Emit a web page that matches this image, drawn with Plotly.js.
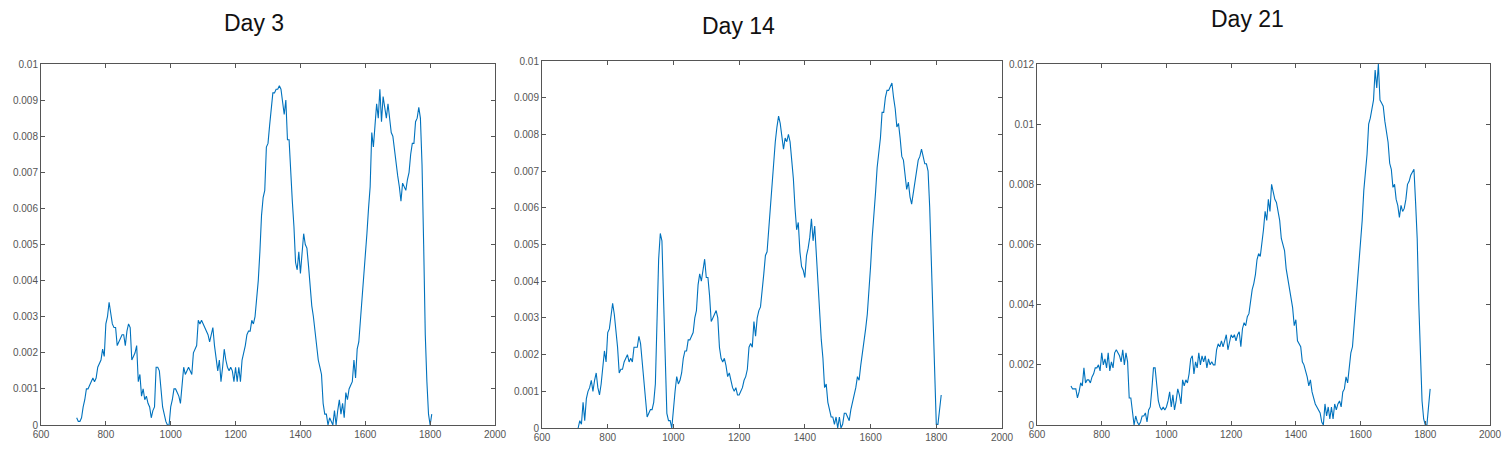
<!DOCTYPE html>
<html>
<head>
<meta charset="utf-8">
<script src="https://cdn.plot.ly/plotly-3.0.1.min.js"></script>
<style>
html,body{margin:0;padding:0;background:#fff;}
#chart{width:1510px;height:452px;}
</style>
</head>
<body>
<div id="chart"></div>
<script>
// Panel titles
const panelTitles = ["Day 3", "Day 14", "Day 21"];

// Wavelength grids: start and step (nm)
const day3Start = 710;
const day14Start = 710;
const day21Start = 705;
const wlStep = 5;

// Day 3 spectrum values (710 .. 1805 nm)
const day3Values = [
0.0002,0.0001,0.0001,0.0002,0.0005,0.0007,0.0010,0.0010,0.0011,0.0012,
0.0013,0.0012,0.0013,0.0016,0.0017,0.0018,0.0021,0.0019,0.0028,0.0030,
0.0034,0.0031,0.0028,0.0027,0.0027,0.0022,0.0023,0.0024,0.0025,0.0025,
0.0022,0.0026,0.0028,0.0027,0.0018,0.0019,0.0020,0.0022,0.0012,0.0014,
0.0008,0.0010,0.0007,0.0008,0.0006,0.0005,0.0002,0.0004,0.0005,0.0016,
0.0016,0.0015,0.0009,0.0005,0.0003,0.0001,0.0000,0.0000,0.0005,0.0007,
0.0010,0.0010,0.0009,0.0008,0.0006,0.0012,0.0016,0.0014,0.0015,0.0016,
0.0015,0.0014,0.0020,0.0021,0.0022,0.0029,0.0028,0.0029,0.0028,0.0027,
0.0026,0.0025,0.0023,0.0025,0.0027,0.0022,0.0018,0.0015,0.0018,0.0012,
0.0016,0.0021,0.0018,0.0016,0.0015,0.0016,0.0015,0.0012,0.0016,0.0012,
0.0016,0.0012,0.0018,0.0020,0.0022,0.0025,0.0026,0.0026,0.0029,0.0028,
0.0030,0.0035,0.0040,0.0048,0.0058,0.0063,0.0065,0.0077,0.0078,0.0083,
0.0088,0.0092,0.0092,0.0093,0.0093,0.0094,0.0093,0.0090,0.0086,0.0090,
0.0079,0.0079,0.0069,0.0062,0.0055,0.0045,0.0043,0.0048,0.0042,0.0049,
0.0053,0.0050,0.0049,0.0044,0.0037,0.0033,0.0030,0.0026,0.0022,0.0018,
0.0016,0.0014,0.0006,0.0003,0.0003,0.0000,0.0002,0.0001,0.0000,0.0004,
0.0000,0.0004,0.0007,0.0003,0.0006,0.0002,0.0009,0.0007,0.0010,0.0011,
0.0012,0.0018,0.0013,0.0021,0.0023,0.0029,0.0035,0.0040,0.0045,0.0053,
0.0060,0.0066,0.0081,0.0077,0.0083,0.0089,0.0085,0.0093,0.0084,0.0091,
0.0088,0.0085,0.0089,0.0085,0.0081,0.0080,0.0076,0.0072,0.0069,0.0066,
0.0062,0.0067,0.0066,0.0065,0.0068,0.0070,0.0075,0.0078,0.0078,0.0084,
0.0085,0.0088,0.0085,0.0072,0.0050,0.0025,0.0012,0.0003,0.0000,0.0003
];

// Day 14 spectrum values (710 .. 1815 nm)
const day14Values = [
0.0000,0.0002,0.0001,0.0007,0.0002,0.0008,0.0010,0.0011,0.0013,0.0010,
0.0013,0.0015,0.0011,0.0009,0.0012,0.0017,0.0021,0.0018,0.0026,0.0027,
0.0030,0.0034,0.0031,0.0027,0.0022,0.0015,0.0016,0.0016,0.0018,0.0019,
0.0020,0.0018,0.0019,0.0018,0.0022,0.0022,0.0022,0.0025,0.0023,0.0018,
0.0013,0.0008,0.0003,0.0004,0.0005,0.0005,0.0007,0.0012,0.0027,0.0046,
0.0053,0.0051,0.0035,0.0015,0.0004,0.0002,0.0002,0.0000,0.0006,0.0010,
0.0014,0.0012,0.0013,0.0015,0.0019,0.0021,0.0021,0.0024,0.0024,0.0025,
0.0026,0.0030,0.0032,0.0039,0.0042,0.0040,0.0043,0.0046,0.0041,0.0041,
0.0036,0.0029,0.0030,0.0031,0.0032,0.0030,0.0022,0.0019,0.0018,0.0019,
0.0017,0.0014,0.0015,0.0013,0.0011,0.0010,0.0011,0.0009,0.0009,0.0010,
0.0011,0.0013,0.0014,0.0016,0.0022,0.0023,0.0022,0.0029,0.0025,0.0030,
0.0032,0.0033,0.0037,0.0042,0.0047,0.0048,0.0054,0.0060,0.0067,0.0074,
0.0078,0.0082,0.0085,0.0083,0.0079,0.0076,0.0079,0.0078,0.0080,0.0078,
0.0073,0.0068,0.0060,0.0054,0.0056,0.0048,0.0044,0.0043,0.0041,0.0047,
0.0049,0.0052,0.0057,0.0051,0.0055,0.0047,0.0040,0.0033,0.0024,0.0019,
0.0011,0.0012,0.0007,0.0005,0.0003,0.0003,0.0001,0.0003,0.0000,0.0003,
0.0000,0.0001,0.0004,0.0004,0.0003,0.0002,0.0005,0.0007,0.0009,0.0011,
0.0014,0.0013,0.0017,0.0020,0.0023,0.0027,0.0031,0.0037,0.0044,0.0052,
0.0057,0.0064,0.0071,0.0075,0.0079,0.0086,0.0086,0.0090,0.0092,0.0092,
0.0093,0.0094,0.0090,0.0087,0.0082,0.0083,0.0079,0.0074,0.0073,0.0069,
0.0065,0.0067,0.0063,0.0061,0.0064,0.0068,0.0070,0.0073,0.0074,0.0076,
0.0074,0.0072,0.0072,0.0070,0.0060,0.0045,0.0025,0.0010,0.0001,0.0001,
0.0005,0.0009
];

// Day 21 spectrum values (705 .. 1815 nm)
const day21Values = [
0.0013,0.0012,0.0012,0.0012,0.0009,0.0011,0.0014,0.0013,0.0019,0.0014,
0.0015,0.0015,0.0014,0.0016,0.0017,0.0019,0.0019,0.0020,0.0018,0.0024,
0.0020,0.0022,0.0019,0.0024,0.0018,0.0021,0.0019,0.0024,0.0025,0.0024,
0.0023,0.0021,0.0025,0.0020,0.0024,0.0021,0.0009,0.0009,0.0004,0.0000,
0.0003,0.0001,0.0000,0.0001,0.0003,0.0003,0.0004,0.0001,0.0005,0.0006,
0.0012,0.0019,0.0019,0.0014,0.0008,0.0006,0.0005,0.0006,0.0005,0.0006,
0.0008,0.0011,0.0006,0.0010,0.0005,0.0008,0.0012,0.0010,0.0007,0.0015,
0.0013,0.0015,0.0014,0.0017,0.0022,0.0023,0.0017,0.0021,0.0019,0.0024,
0.0020,0.0023,0.0021,0.0023,0.0019,0.0022,0.0020,0.0021,0.0020,0.0020,
0.0025,0.0027,0.0026,0.0028,0.0026,0.0028,0.0030,0.0025,0.0028,0.0030,
0.0029,0.0030,0.0028,0.0030,0.0031,0.0026,0.0032,0.0034,0.0033,0.0036,
0.0037,0.0042,0.0045,0.0047,0.0050,0.0055,0.0057,0.0056,0.0060,0.0065,
0.0071,0.0068,0.0075,0.0071,0.0080,0.0077,0.0075,0.0074,0.0071,0.0068,
0.0062,0.0060,0.0058,0.0052,0.0049,0.0046,0.0042,0.0039,0.0033,0.0035,
0.0028,0.0027,0.0026,0.0021,0.0020,0.0018,0.0016,0.0013,0.0015,0.0011,
0.0009,0.0007,0.0006,0.0005,0.0004,0.0001,0.0000,0.0007,0.0003,0.0006,
0.0002,0.0006,0.0002,0.0007,0.0005,0.0007,0.0008,0.0006,0.0011,0.0012,
0.0016,0.0014,0.0020,0.0024,0.0026,0.0033,0.0039,0.0045,0.0052,0.0060,
0.0068,0.0078,0.0083,0.0090,0.0100,0.0102,0.0105,0.0108,0.0118,0.0112,
0.0120,0.0108,0.0107,0.0106,0.0101,0.0097,0.0094,0.0087,0.0085,0.0079,
0.0080,0.0075,0.0073,0.0069,0.0073,0.0071,0.0072,0.0075,0.0080,0.0081,
0.0083,0.0084,0.0085,0.0074,0.0062,0.0040,0.0021,0.0008,0.0002,0.0000,
0.0000,0.0006,0.0012
];

// x tick values
const xTickVals = [600, 800, 1000, 1200, 1400, 1600, 1800, 2000];

function grid(start, n) {
  const out = [];
  for (let i = 0; i < n; i++) out.push(start + wlStep * i);
  return out;
}

const lineColor = "#0072BD";
const series = [
  {start: day3Start, y: day3Values},
  {start: day14Start, y: day14Values},
  {start: day21Start, y: day21Values}
];

const traces = series.map((s, i) => ({
  type: "scatter",
  mode: "lines",
  x: grid(s.start, s.y.length),
  y: s.y,
  xaxis: i === 0 ? "x" : "x" + (i + 1),
  yaxis: i === 0 ? "y" : "y" + (i + 1),
  line: {color: lineColor, width: 1.1},
  hoverinfo: "x+y",
  showlegend: false
}));

const W = 1510, H = 452;
const boxes = [
  {l: 41, r: 495, t: 64, b: 425, ymax: 0.01, dy: 0.001},
  {l: 542, r: 1002, t: 61, b: 428, ymax: 0.01, dy: 0.001},
  {l: 1037, r: 1490, t: 64, b: 425, ymax: 0.012, dy: 0.002}
];

const tickFont = {family: "Liberation Sans, Arial, sans-serif", size: 10, color: "#555"};
const layout = {
  width: W, height: H,
  margin: {l: 0, r: 0, t: 0, b: 0},
  paper_bgcolor: "#fff",
  plot_bgcolor: "#fff",
  showlegend: false,
  annotations: []
};

const titlePos = [{x: 254, y: 23}, {x: 738, y: 26}, {x: 1247, y: 19}];

boxes.forEach((b, i) => {
  const xa = i === 0 ? "xaxis" : "xaxis" + (i + 1);
  const ya = i === 0 ? "yaxis" : "yaxis" + (i + 1);
  const yref = i === 0 ? "y" : "y" + (i + 1);
  const xref = i === 0 ? "x" : "x" + (i + 1);
  layout[xa] = {
    domain: [b.l / W, b.r / W],
    range: [600, 2000],
    tickvals: xTickVals,
    ticktext: xTickVals.map(String),
    ticks: "inside", ticklen: 4, tickcolor: "#555", tickwidth: 1,
    showline: true, linecolor: "#555", linewidth: 1, mirror: "ticks",
    showgrid: false, zeroline: false,
    tickfont: tickFont,
    anchor: yref,
    fixedrange: true
  };
  layout[ya] = {
    domain: [1 - b.b / H, 1 - b.t / H],
    range: [0, b.ymax],
    dtick: b.dy, tick0: 0,
    ticks: "inside", ticklen: 4, tickcolor: "#555", tickwidth: 1,
    showline: true, linecolor: "#555", linewidth: 1, mirror: "ticks",
    showgrid: false, zeroline: false,
    tickfont: tickFont,
    anchor: xref,
    fixedrange: true
  };
  layout.annotations.push({
    text: panelTitles[i],
    xref: "paper", yref: "paper",
    x: titlePos[i].x / W, y: 1 - titlePos[i].y / H,
    xanchor: "center", yanchor: "middle",
    showarrow: false,
    font: {family: "Liberation Sans, Arial, sans-serif", size: 23, color: "#111"}
  });
});

Plotly.newPlot("chart", traces, layout, {displayModeBar: false, staticPlot: true});
</script>
</body>
</html>
